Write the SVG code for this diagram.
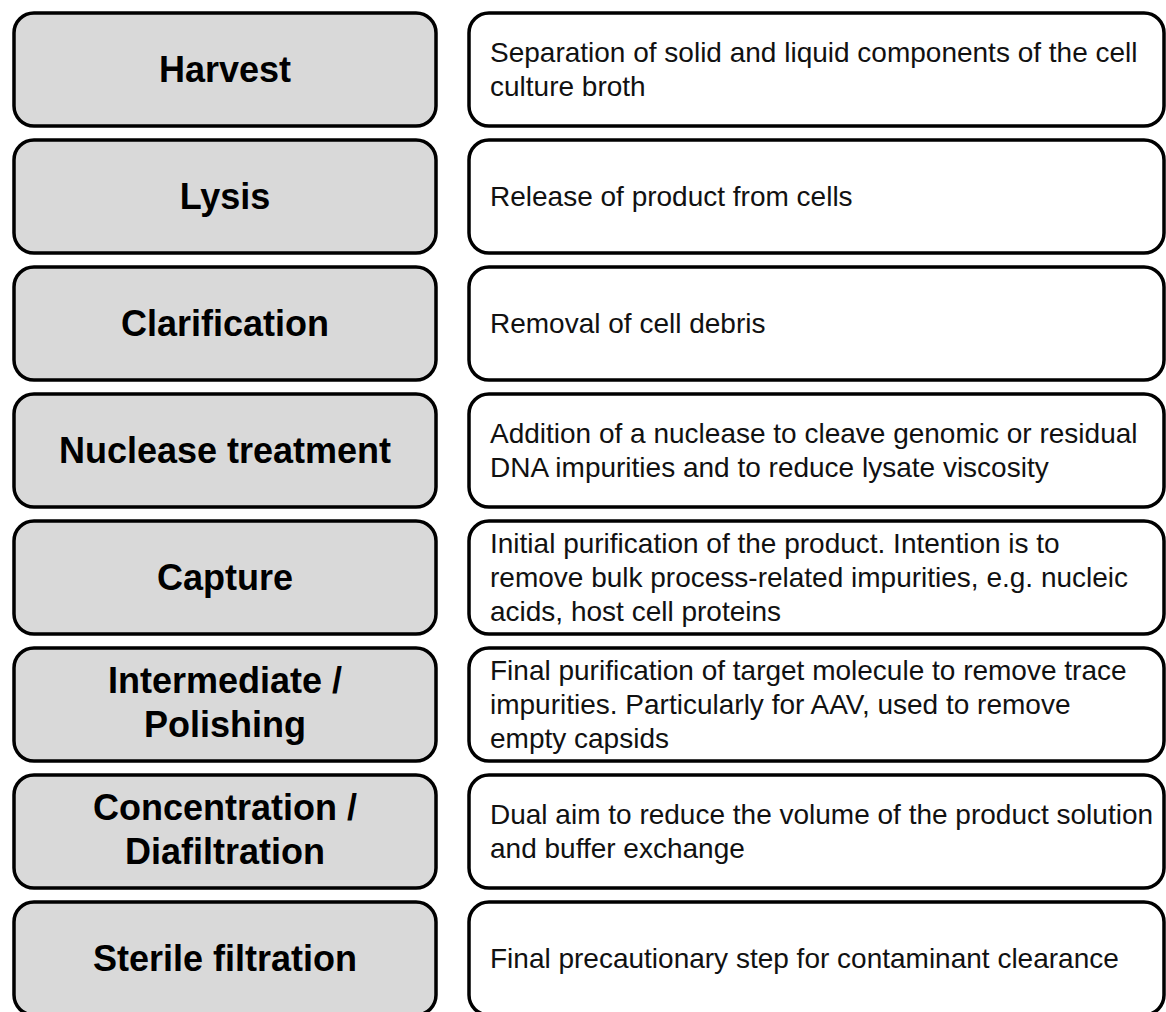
<svg xmlns="http://www.w3.org/2000/svg" width="1166" height="1012" viewBox="0 0 1166 1012">
  <style>
    .step rect { fill: #d9d9d9; stroke: #000; stroke-width: 3.5; }
    .desc rect { fill: #fff; stroke: #000; stroke-width: 3.5; }
    .step text { font-family: "Liberation Sans", Arial, sans-serif; font-weight: bold; font-size: 36px; fill: #000; text-anchor: middle; }
    .desc text { font-family: "Liberation Sans", Arial, sans-serif; font-size: 28px; fill: #111; }
  </style>
  <rect width="1166" height="1012" fill="#fff"/>

  <!-- process steps (left column) -->
  <g id="step-harvest" class="step">
    <rect x="14" y="13" width="422" height="113" rx="20"/>
    <text x="225" y="82">Harvest</text>
  </g>
  <g id="step-lysis" class="step">
    <rect x="14" y="140" width="422" height="113" rx="20"/>
    <text x="225" y="209">Lysis</text>
  </g>
  <g id="step-clarification" class="step">
    <rect x="14" y="267" width="422" height="113" rx="20"/>
    <text x="225" y="336">Clarification</text>
  </g>
  <g id="step-nuclease" class="step">
    <rect x="14" y="394" width="422" height="113" rx="20"/>
    <text x="225" y="463">Nuclease treatment</text>
  </g>
  <g id="step-capture" class="step">
    <rect x="14" y="521" width="422" height="113" rx="20"/>
    <text x="225" y="590">Capture</text>
  </g>
  <g id="step-polishing" class="step">
    <rect x="14" y="648" width="422" height="113" rx="20"/>
    <text x="225" y="693">Intermediate /</text>
    <text x="225" y="737">Polishing</text>
  </g>
  <g id="step-concentration" class="step">
    <rect x="14" y="775" width="422" height="113" rx="20"/>
    <text x="225" y="820">Concentration /</text>
    <text x="225" y="864">Diafiltration</text>
  </g>
  <g id="step-sterile" class="step">
    <rect x="14" y="902" width="422" height="113" rx="20"/>
    <text x="225" y="971">Sterile filtration</text>
  </g>

  <!-- descriptions (right column) -->
  <g id="desc-harvest" class="desc">
    <rect x="469" y="13" width="695" height="113" rx="20"/>
    <text x="490" y="62">Separation of solid and liquid components of the cell</text>
    <text x="490" y="96">culture broth</text>
  </g>
  <g id="desc-lysis" class="desc">
    <rect x="469" y="140" width="695" height="113" rx="20"/>
    <text x="490" y="206">Release of product from cells</text>
  </g>
  <g id="desc-clarification" class="desc">
    <rect x="469" y="267" width="695" height="113" rx="20"/>
    <text x="490" y="333">Removal of cell debris</text>
  </g>
  <g id="desc-nuclease" class="desc">
    <rect x="469" y="394" width="695" height="113" rx="20"/>
    <text x="490" y="443">Addition of a nuclease to cleave genomic or residual</text>
    <text x="490" y="477">DNA impurities and to reduce lysate viscosity</text>
  </g>
  <g id="desc-capture" class="desc">
    <rect x="469" y="521" width="695" height="113" rx="20"/>
    <text x="490" y="553">Initial purification of the product. Intention is to</text>
    <text x="490" y="587">remove bulk process-related impurities, e.g. nucleic</text>
    <text x="490" y="621">acids, host cell proteins</text>
  </g>
  <g id="desc-polishing" class="desc">
    <rect x="469" y="648" width="695" height="113" rx="20"/>
    <text x="490" y="680">Final purification of target molecule to remove trace</text>
    <text x="490" y="714">impurities. Particularly for AAV, used to remove</text>
    <text x="490" y="748">empty capsids</text>
  </g>
  <g id="desc-concentration" class="desc">
    <rect x="469" y="775" width="695" height="113" rx="20"/>
    <text x="490" y="824">Dual aim to reduce the volume of the product solution</text>
    <text x="490" y="858">and buffer exchange</text>
  </g>
  <g id="desc-sterile" class="desc">
    <rect x="469" y="902" width="695" height="113" rx="20"/>
    <text x="490" y="968">Final precautionary step for contaminant clearance</text>
  </g>

  <!-- no connectors are drawn between the rows -->
  <g id="connectors"/>
</svg>
